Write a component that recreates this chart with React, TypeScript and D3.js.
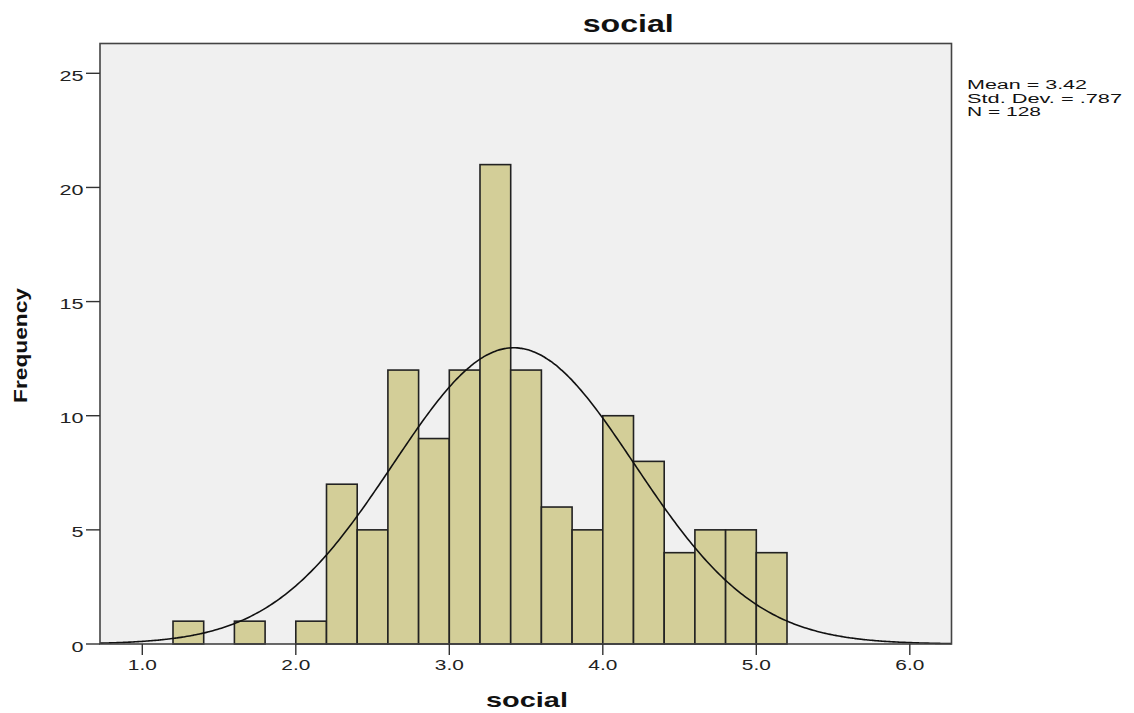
import React from "react";
import * as d3 from "d3";

const binStarts = [1.2, 1.6, 2.0, 2.2, 2.4, 2.6, 2.8, 3.0, 3.2, 3.4, 3.6, 3.8, 4.0, 4.2, 4.4, 4.6, 4.8, 5.0];
const counts = [1, 1, 1, 7, 5, 12, 9, 12, 21, 12, 6, 5, 10, 8, 4, 5, 5, 4];
const binWidth = 0.2;
const xTicks = [1.0, 2.0, 3.0, 4.0, 5.0, 6.0];
const yTicks = [0, 5, 10, 15, 20, 25];
const stats = { mean: 3.42, sd: 0.787, n: 128 };
const statLines = ["Mean = 3.42", "Std. Dev. = .787", "N = 128"];
const statLengths = [120, 155, 74];

export default function App() {
  const W = 1134, H = 713;
  const left = 100, right = 951.5, top = 43.5, bottom = 644;
  const x = d3.scaleLinear().domain([1.0, 6.0]).range([142.3, 909.8]);
  const y = d3.scaleLinear().domain([0, 25]).range([bottom, 73.3]);
  const xMin = x.invert(left), xMax = x.invert(right);
  const pdf = (v: number) =>
    (stats.n * binWidth) / (stats.sd * Math.sqrt(2 * Math.PI)) *
    Math.exp(-0.5 * ((v - stats.mean) / stats.sd) ** 2);
  const pts = d3.range(0, 401).map((i) => xMin + ((xMax - xMin) * i) / 400);
  const line = d3.line<number>().x((v) => x(v)).y((v) => y(pdf(v))).curve(d3.curveBasis);
  const font = "'Liberation Sans', Arial, sans-serif";
  return (
    <svg width={W} height={H} style={{ position: "absolute", left: 0, top: 0, background: "#fff" }}>
      <rect x={left} y={top} width={right - left} height={bottom - top} fill="#f0f0f0" stroke="none" />
      {binStarts.map((b, i) => (
        <rect key={i} x={x(b)} y={y(counts[i])} width={x(b + binWidth) - x(b)} height={bottom - y(counts[i])}
          fill="#d3ce98" stroke="#222" strokeWidth={1.6} />
      ))}
      <path d={line(pts) || ""} fill="none" stroke="#111" strokeWidth={1.6} />
      <rect x={left} y={top} width={right - left} height={bottom - top} fill="none" stroke="#444" strokeWidth={1.6} />
      {yTicks.map((t) => (
        <g key={t}>
          <line x1={left - 14} x2={left} y1={y(t)} y2={y(t)} stroke="#333" strokeWidth={1.4} />
          <text x={83.5} y={y(t) + 7.5} textAnchor="end" fontFamily={font} fontSize={15.5} fill="#222"
            textLength={String(t).length * 12} lengthAdjust="spacingAndGlyphs">{t}</text>
        </g>
      ))}
      {xTicks.map((t) => (
        <g key={t}>
          <line x1={x(t)} x2={x(t)} y1={bottom} y2={bottom + 11} stroke="#333" strokeWidth={1.4} />
          <text x={x(t) - 14.5} y={670} fontFamily={font} fontSize={15.5} fill="#222"
            textLength={29} lengthAdjust="spacingAndGlyphs">{t.toFixed(1)}</text>
        </g>
      ))}
      <text x={582.7} y={32} fontFamily={font} fontWeight="bold" fontSize={23} fill="#111"
        textLength={91} lengthAdjust="spacingAndGlyphs">social</text>
      <text x={486} y={707} fontFamily={font} fontWeight="bold" fontSize={21} fill="#111"
        textLength={82} lengthAdjust="spacingAndGlyphs">social</text>
      <text transform={`translate(27,403) rotate(-90)`} fontFamily={font} fontWeight="bold" fontSize={18.5}
        fill="#111" textLength={115} lengthAdjust="spacingAndGlyphs">Frequency</text>
      {statLines.map((s, i) => (
        <text key={i} x={967} y={89 + i * 13.5} fontFamily={font} fontSize={12.5} fill="#111"
          textLength={statLengths[i]} lengthAdjust="spacingAndGlyphs">{s}</text>
      ))}
    </svg>
  );
}
